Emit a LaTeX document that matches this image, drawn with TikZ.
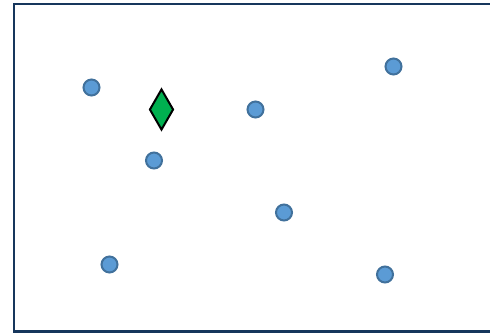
\documentclass[tikz,border=0pt]{standalone}
\usetikzlibrary{shapes.geometric}
\definecolor{frame}{RGB}{22,54,92}
\definecolor{dotfill}{RGB}{91,155,213}
\definecolor{dotline}{RGB}{65,113,156}
\definecolor{gem}{RGB}{0,176,80}
\begin{document}
\begin{tikzpicture}[x=1pt,y=-1pt,
  dot/.style={circle,draw=dotline,fill=dotfill,line width=2pt,minimum size=16pt,inner sep=0pt},
  gemstyle/.style={diamond,draw=black,fill=gem,line width=2pt,minimum width=24pt,minimum height=41pt,inner sep=0pt,aspect=0.55}]
\useasboundingbox (0,0) rectangle (490,333);
\draw[frame,line width=2.4pt] (14,4) rectangle (510,331.5);
\node[dot] (p1) at (91.5,87.5) {};
\node[dot] (p2) at (154,160.5) {};
\node[dot] (p3) at (255.5,109.5) {};
\node[dot] (p4) at (393.5,66.5) {};
\node[dot] (p5) at (284,212.5) {};
\node[dot] (p6) at (109.5,264.5) {};
\node[dot] (p7) at (385,274.5) {};
\node[gemstyle] (g) at (161.5,109.5) {};
\end{tikzpicture}
\end{document}
